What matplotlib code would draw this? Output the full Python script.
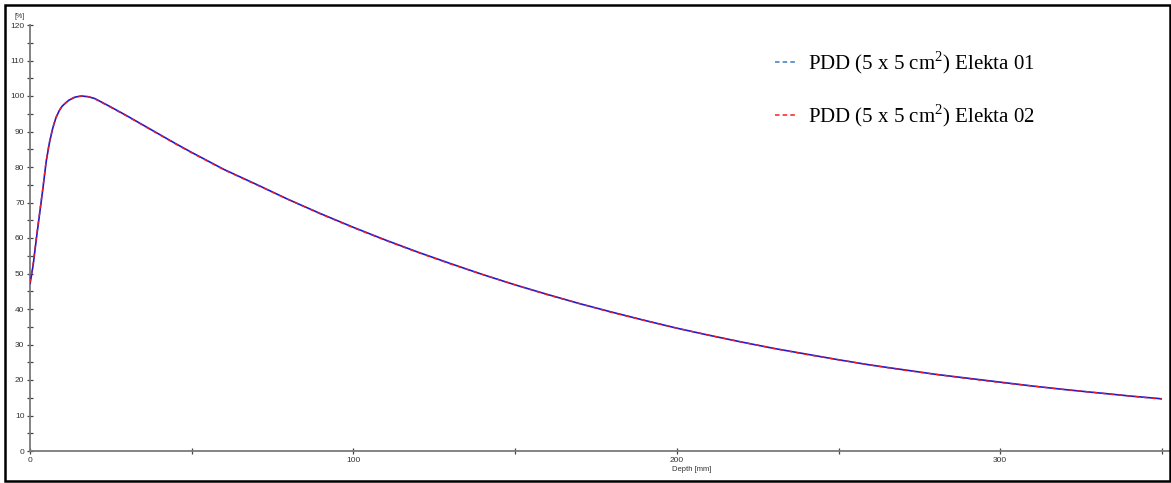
import matplotlib
matplotlib.use("Agg")
import matplotlib.pyplot as plt
from matplotlib.lines import Line2D
from matplotlib.patches import Rectangle
from matplotlib.ticker import MultipleLocator

plt.rcParams["mathtext.fontset"] = "custom"
plt.rcParams["mathtext.rm"] = "Liberation Serif"

# Percentage depth dose, 5 x 5 cm^2 field
depth_mm = [0, 1, 2, 3, 4, 5, 6, 7, 8, 9, 10, 12, 14, 16, 18, 20, 25, 30, 35,
            40, 45, 50, 60, 70, 80, 90, 100, 110, 120, 130, 140, 150, 160,
            170, 180, 190, 200, 210, 220, 230, 240, 250, 260, 270, 280, 290,
            300, 310, 320, 330, 340, 350]
pdd_elekta01 = [47.0, 52.5, 60.0, 67.0, 74.0, 81.5, 86.8, 90.8, 93.8, 95.8,
                97.2, 98.8, 99.7, 100.0, 99.8, 99.3, 96.9, 94.4, 91.8, 89.2,
                86.6, 84.1, 79.3, 75.1, 70.8, 66.8, 63.0, 59.4, 56.0, 52.8,
                49.7, 46.8, 44.1, 41.5, 39.1, 36.8, 34.6, 32.6, 30.7, 28.9,
                27.3, 25.7, 24.2, 22.9, 21.6, 20.5, 19.4, 18.3, 17.3, 16.4,
                15.5, 14.7]
pdd_elekta02 = [47.4, 53.0, 60.4, 67.3, 74.3, 81.8, 87.0, 91.0, 93.9, 95.9,
                97.3, 98.9, 99.8, 100.0, 99.8, 99.2, 96.8, 94.3, 91.7, 89.1,
                86.5, 84.0, 79.2, 75.0, 70.8, 66.7, 62.9, 59.3, 55.9, 52.7,
                49.7, 46.8, 44.0, 41.5, 39.0, 36.8, 34.6, 32.6, 30.7, 28.9,
                27.2, 25.7, 24.2, 22.8, 21.6, 20.4, 19.3, 18.3, 17.3, 16.4,
                15.5, 14.6]
legend_labels = ["PDD (5 x 5 cm$^{2}$) Elekta 01",
                 "PDD (5 x 5 cm$^{2}$) Elekta 02"]

W, H = 1171, 483
fig = plt.figure(figsize=(W / 100, H / 100), dpi=100)
ax = fig.add_axes([30 / W, (H - 451) / H, 1140 / W, 426 / H])

ax.plot(depth_mm, pdd_elekta01, color="#1a1ad6", lw=1.2, solid_capstyle="butt",
        zorder=3)
ax.plot(depth_mm, pdd_elekta02, color="#ee1c1c", lw=1.0, dashes=(3, 3),
        zorder=4)

ax.set_xlim(0, 352.5)
ax.set_ylim(0, 120)

for side in ("top", "right"):
    ax.spines[side].set_visible(False)
for side in ("left", "bottom"):
    ax.spines[side].set_color("#7a7a7a")
    ax.spines[side].set_linewidth(1.3)

ax.xaxis.set_major_locator(MultipleLocator(50))
ax.xaxis.set_major_formatter(lambda v, p: f"{v:.0f}" if v % 100 == 0 else "")
ax.yaxis.set_major_locator(MultipleLocator(10))
ax.yaxis.set_minor_locator(MultipleLocator(5))
ax.tick_params(axis="both", which="both", direction="inout", color="#444444",
               labelsize=6, labelcolor="#333333", pad=1.5, width=0.9)
ax.tick_params(axis="both", which="major", length=5)
ax.tick_params(axis="y", which="minor", length=4)
for lab in ax.get_xticklabels() + ax.get_yticklabels():
    lab.set_family("Liberation Sans")

ax.text(-0.0045, 1.012, "[%]", transform=ax.transAxes, ha="right", va="bottom",
        fontsize=5, color="#333333", family="Liberation Sans")
ax.set_xlabel("Depth [mm]", fontsize=5.5, color="#333333",
              family="Liberation Sans")
ax.xaxis.set_label_coords((692 - 30) / 1140, -0.036)

handles = [Line2D([], [], color="#3a7cc4", lw=1.1, dashes=(3, 2)),
           Line2D([], [], color="#ff1a1a", lw=1.1, dashes=(3, 2))]
fig.legend(handles, legend_labels, loc="upper left",
           bbox_to_anchor=(775 / W, 1 - 49 / H), frameon=False,
           prop={"family": "Liberation Serif", "size": 15},
           handlelength=0.96, handletextpad=0.62, labelspacing=1.3,
           borderpad=0, borderaxespad=0)

fig.patches.append(Rectangle((5 / W, 2 / H), 1165 / W, 476 / H,
                             transform=fig.transFigure, fill=False,
                             edgecolor="black", lw=1.8))

fig.savefig("out.png", dpi=100)
